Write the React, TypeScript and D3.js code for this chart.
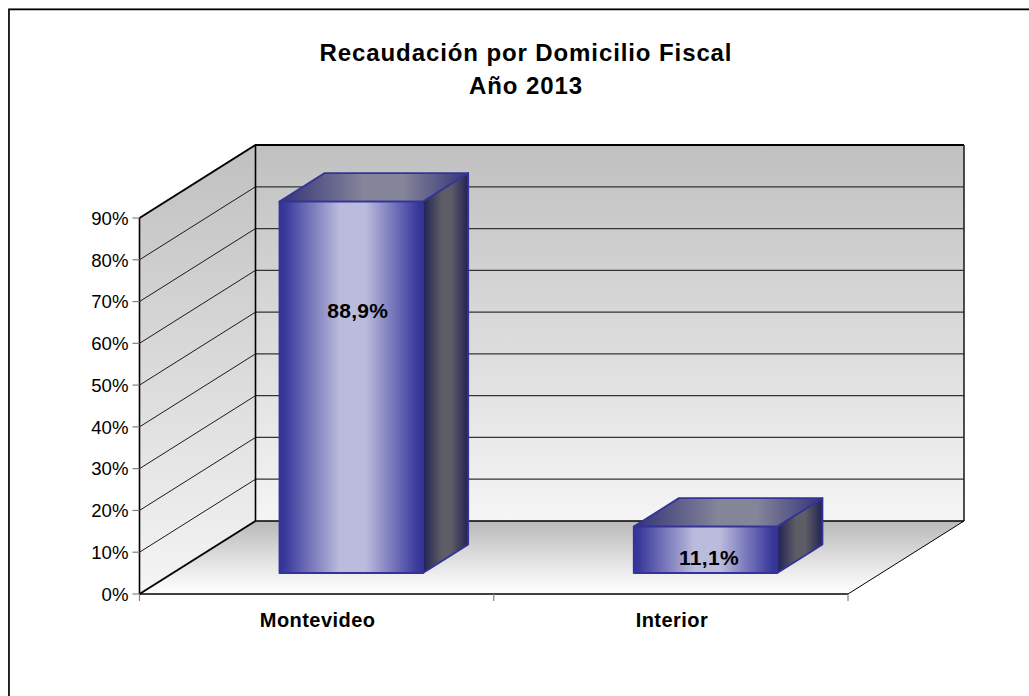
import React from "react";
import * as d3 from "d3";

const titleLines = ["Recaudación por Domicilio Fiscal", "Año 2013"];
const categories = ["Montevideo", "Interior"];
const values = [88.9, 11.1];
const valueLabels = ["88,9%", "11,1%"];
const yTicks = [0, 10, 20, 30, 40, 50, 60, 70, 80, 90];

const FONT = "'Liberation Sans', Arial, sans-serif";
// plot geometry of the pseudo-3D box
const x0 = 139.5, x1 = 848, yBase = 594, yTop = 218;
const depthX = 116, depthY = -73;
const barInset = 0.288; // depth fraction where a bar starts
const barDepth = 0.39; // depth fraction a bar occupies
const barWidthFrac = 0.405;
const barShift = 1.2;
const labelAt = [0.705, 0.32]; // height of value labels inside each bar, fraction
const labelDx = [6.5, 3.5];

const yScale = d3.scaleLinear().domain([0, 90]).range([yBase, yTop]);
const xBand = d3.scaleBand<string>().domain(categories).range([x0, x1]);
const xEdges = [x0, ...categories.map((c) => (xBand(c) as number) + xBand.bandwidth())];

const project = (x: number, v: number, d: number): [number, number] => [
  x + d * depthX,
  yScale(v) + d * depthY,
];
const poly = (pts: [number, number][]) => {
  const l = d3.line();
  return (l(pts) as string) + "Z";
};

function Stops({ stops }: { stops: [number, string][] }) {
  return (
    <>
      {stops.map(([o, c], i) => (
        <stop key={i} offset={o} stopColor={c} />
      ))}
    </>
  );
}

export default function App() {
  const back: [number, number][] = [
    project(x0, 90, 1),
    project(x1, 90, 1),
    project(x1, 0, 1),
    project(x0, 0, 1),
  ];
  const side: [number, number][] = [
    project(x0, 90, 0),
    project(x0, 90, 1),
    project(x0, 0, 1),
    project(x0, 0, 0),
  ];
  const floor: [number, number][] = [
    project(x0, 0, 0),
    project(x1, 0, 0),
    project(x1, 0, 1),
    project(x0, 0, 1),
  ];
  return (
    <svg
      width={1029}
      height={696}
      viewBox="0 0 1029 696"
      style={{ position: "absolute", left: 0, top: 0, display: "block", background: "#fff" }}
    >
      <defs>
        <linearGradient id="wall" x1="0" y1="0" x2="0" y2="1">
          <Stops stops={[[0, "#c0c0c0"], [1, "#f5f5f5"]]} />
        </linearGradient>
        <linearGradient id="floor" x1="0" y1="0" x2="0" y2="1">
          <Stops stops={[[0, "#b9b9b9"], [0.75, "#f0f0f0"], [1, "#ffffff"]]} />
        </linearGradient>
        <linearGradient id="front" x1="0" y1="0" x2="1" y2="0">
          <Stops stops={[[0, "#333399"], [0.04, "#3a3a9c"], [0.42, "#bbbbdd"], [0.6, "#bbbbdd"], [0.96, "#3a3a9c"], [1, "#333399"]]} />
        </linearGradient>
        <linearGradient id="top" x1="0" y1="0" x2="1" y2="0">
          <Stops stops={[[0, "#333377"], [0.45, "#85859a"], [0.65, "#85859a"], [1, "#333377"]]} />
        </linearGradient>
        <linearGradient id="side" x1="0" y1="0" x2="1" y2="0">
          <Stops stops={[[0, "#222255"], [0.42, "#5d5d66"], [0.62, "#5d5d66"], [1, "#222255"]]} />
        </linearGradient>
      </defs>

      {/* chart frame, open to the right and bottom */}
      <path d="M8.5,696V8.5H1029" fill="none" stroke="#999" strokeWidth={1} />
      <path d="M9,696V9.5H1029" fill="none" stroke="#000" strokeWidth={1.6} />

      <g fontFamily={FONT} fontWeight="bold" fontSize={24} letterSpacing={0.9} textAnchor="middle" fill="#000">
        {titleLines.map((t, i) => (
          <text key={t} x={526} y={61 + i * 33}>{t}</text>
        ))}
      </g>

      <path d={poly(back)} fill="url(#wall)" />
      <path d={poly(side)} fill="url(#wall)" />
      <path d={poly(floor)} fill="url(#floor)" />

      {/* gridlines */}
      {yTicks.slice(1, -1).map((t) => {
        const a = project(x0, t, 0);
        const b = project(x0, t, 1);
        const c = project(x1, t, 1);
        return (
          <g key={t} fill="none">
            <path d={`M${a}L${b}`} stroke="#1a1a1a" strokeWidth={1} />
            <path d={`M${b}L${c}`} stroke="#333" strokeWidth={1.2} />
          </g>
        );
      })}

      {/* box outlines */}
      <g fill="none" stroke="#000">
        <path d={`M${project(x0, 90, 0)}L${project(x0, 90, 1)}L${project(x1, 90, 1)}`} strokeWidth={2} />
        <path d={`M${project(x1, 90, 1)}L${project(x1, 0, 1)}`} strokeWidth={1.6} stroke="#222" />
        <path d={`M${project(x0, 90, 1)}L${project(x0, 0, 1)}`} strokeWidth={1.6} />
        <path d={`M${project(x0, 90, 0)}L${project(x0, 0, 0)}`} strokeWidth={1.6} />
        <path d={`M${project(x0, 0, 0)}L${project(x0, 0, 1)}`} strokeWidth={2} />
        <path d={`M${project(x0, 0, 1)}L${project(x1, 0, 1)}`} strokeWidth={1.4} />
        <path d={`M${project(x0, 0, 0)}L${project(x1, 0, 0)}`} strokeWidth={1.4} />
        <path d={`M${project(x1, 0, 0)}L${project(x1, 0, 1)}`} strokeWidth={1} />
      </g>

      {/* y axis */}
      {yTicks.map((t) => (
        <g key={t}>
          <line x1={x0 - 7} x2={x0} y1={yScale(t)} y2={yScale(t)} stroke="#808080" strokeWidth={1.2} />
          <text x={128.5} y={yScale(t) + 6.8} textAnchor="end" fontFamily={FONT} fontSize={18.6} fill="#000">
            {t}%
          </text>
        </g>
      ))}

      {/* x axis */}
      {xEdges.map((x) => (
        <line key={x} x1={x} x2={x} y1={yBase} y2={yBase + 7} stroke="#808080" strokeWidth={1.2} />
      ))}
      {categories.map((c) => (
        <text
          key={c}
          x={(xBand(c) as number) + xBand.bandwidth() / 2 + 1}
          y={627}
          textAnchor="middle"
          fontFamily={FONT}
          fontWeight="bold"
          fontSize={20}
          letterSpacing={0.45}
          fill="#000"
        >
          {c}
        </text>
      ))}

      {/* bars */}
      {categories.map((c, i) => {
        const w = xBand.bandwidth() * barWidthFrac;
        const xl = (xBand(c) as number) + (xBand.bandwidth() - w) / 2 + barShift;
        const xr = xl + w;
        const v = values[i];
        const d0 = barInset;
        const d1 = barInset + barDepth;
        const fl = project(xl, v, d0);
        const fr = project(xr, v, d0);
        const frb = project(xr, 0, d0);
        const flb = project(xl, 0, d0);
        const bl = project(xl, v, d1);
        const br = project(xr, v, d1);
        const brb = project(xr, 0, d1);
        const labelPos = project((xl + xr) / 2, v * labelAt[i], d0);
        return (
          <g key={c} stroke="#333399" strokeWidth={1.8} strokeLinejoin="round">
            <path d={poly([fr, br, brb, frb])} fill="url(#side)" />
            <path d={poly([fl, bl, br, fr])} fill="url(#top)" />
            <path d={poly([fl, fr, frb, flb])} fill="url(#front)" />
            <text
              x={labelPos[0] + labelDx[i]}
              y={labelPos[1] + 7}
              textAnchor="middle"
              stroke="none"
              fontFamily={FONT}
              fontWeight="bold"
              fontSize={21}
              letterSpacing={0.3}
              fill="#000"
            >
              {valueLabels[i]}
            </text>
          </g>
        );
      })}
    </svg>
  );
}
